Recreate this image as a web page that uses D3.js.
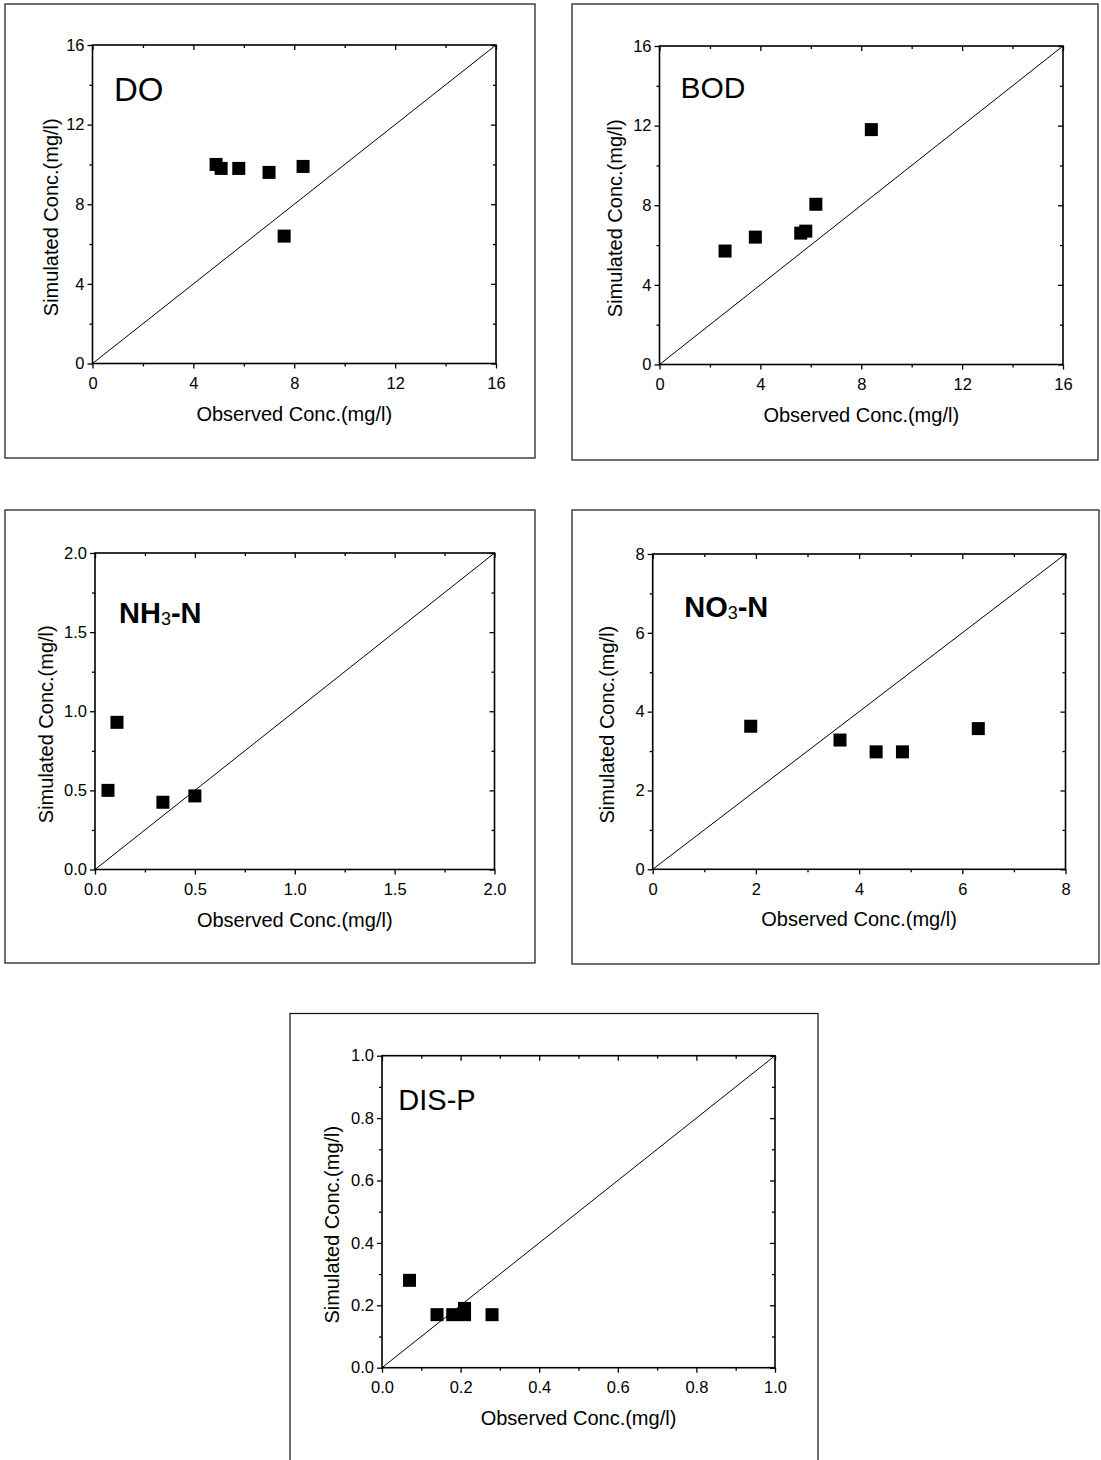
<!DOCTYPE html>
<html>
<head>
<meta charset="utf-8">
<script src="https://cdn.jsdelivr.net/npm/d3@7"></script>
<style>
  html, body { margin: 0; padding: 0; background: #fff; }
  svg { display: block; }
  text { font-family: "Liberation Sans", Arial, Helvetica, sans-serif; fill: #000; }
</style>
</head>
<body>
<svg id="chart" width="1101" height="1460"></svg>
<script>
// Observed vs simulated concentrations (mg/l) for each water-quality constituent
const doObserved  = [4.9, 5.1, 5.8, 7.0, 8.35, 7.6];
const doSimulated = [10.0, 9.8, 9.8, 9.6, 9.9, 6.4];

const bodObserved  = [2.6, 3.8, 5.6, 5.8, 6.2, 8.4];
const bodSimulated = [5.7, 6.4, 6.6, 6.7, 8.05, 11.8];

const nh3Observed  = [0.065, 0.11, 0.34, 0.50];
const nh3Simulated = [0.50, 0.93, 0.425, 0.465];

const no3Observed  = [1.9, 3.63, 4.33, 4.84, 6.31];
const no3Simulated = [3.63, 3.28, 2.98, 2.98, 3.57];

const dispObserved  = [0.07, 0.14, 0.18, 0.21, 0.21, 0.28];
const dispSimulated = [0.28, 0.17, 0.17, 0.17, 0.19, 0.17];

// Major tick labels of each axis range
const ticks16 = [0, 4, 8, 12, 16];
const ticks8  = [0, 2, 4, 6, 8];
const ticks2  = [0, 0.5, 1.0, 1.5, 2.0];
const ticks1  = [0, 0.2, 0.4, 0.6, 0.8, 1.0];

const xAxisTitle = "Observed Conc.(mg/l)";
const yAxisTitle = "Simulated Conc.(mg/l)";

// Panel definitions: data + frame / plot-area geometry
const panels = [
  { title: ["DO"], obs: doObserved, sim: doSimulated, max: 16, ticks: ticks16, fmt: "d",
    frame: [5, 4, 535, 458], plot: [92.5, 45, 496, 363.5], yTitleGap: 35,
    titleDx: 21.5, titleDy: 56, titleSize: 33, titleWeight: "normal" },
  { title: ["BOD"], obs: bodObserved, sim: bodSimulated, max: 16, ticks: ticks16, fmt: "d",
    frame: [572, 4, 1098, 460], plot: [659.5, 46, 1063, 364.5], yTitleGap: 38,
    titleDx: 21, titleDy: 52, titleSize: 30, titleWeight: "normal" },
  { title: ["NH", "3", "-N"], obs: nh3Observed, sim: nh3Simulated, max: 2, ticks: ticks2, fmt: ".1f",
    frame: [5, 510, 535, 963], plot: [95, 553, 494.5, 869.5], yTitleGap: 42,
    titleDx: 24, titleDy: 70, titleSize: 29, titleWeight: "bold" },
  { title: ["NO", "3", "-N"], obs: no3Observed, sim: no3Simulated, max: 8, ticks: ticks8, fmt: "d",
    frame: [572, 510, 1099, 964], plot: [652.7, 554, 1065.5, 869.3], yTitleGap: 39,
    titleDx: 31.5, titleDy: 63, titleSize: 29, titleWeight: "bold" },
  { title: ["DIS-P"], obs: dispObserved, sim: dispSimulated, max: 1, ticks: ticks1, fmt: ".1f",
    frame: [290, 1013.5, 818, 1475], plot: [382, 1055.7, 775, 1367.7], yTitleGap: 43,
    titleDx: 16.3, titleDy: 54, titleSize: 29, titleWeight: "normal" }
];

const svg = d3.select("#chart");
const MAJOR = 5, MINOR = 3, MARK = 13;

function minorsOf(ticks) {
  const out = [];
  for (let i = 0; i < ticks.length - 1; i++) out.push((ticks[i] + ticks[i + 1]) / 2);
  return out;
}

function styleAxis(g) {
  g.attr("font-size", null).attr("font-family", null);
  g.select(".domain").remove();
  g.selectAll(".tick line").attr("stroke", "#000").attr("stroke-width", 1.3);
  g.selectAll(".tick text").attr("font-size", 16.5).attr("fill", "#000");
}

panels.forEach(p => {
  const [fx0, fy0, fx1, fy1] = p.frame;
  const [px0, py0, px1, py1] = p.plot;

  // outer panel frame
  svg.append("rect")
    .attr("x", fx0).attr("y", fy0)
    .attr("width", fx1 - fx0).attr("height", fy1 - fy0)
    .attr("fill", "none").attr("stroke", "#111").attr("stroke-width", 1.2);

  const x = d3.scaleLinear().domain([0, p.max]).range([px0, px1]);
  const y = d3.scaleLinear().domain([0, p.max]).range([py1, py0]);
  const minors = minorsOf(p.ticks);
  const fmt = d3.format(p.fmt);

  // bottom axis: labelled major ticks, minor ticks, all outward
  svg.append("g").attr("transform", `translate(0,${py1})`)
    .call(d3.axisBottom(x).tickValues(p.ticks).tickFormat(fmt).tickSize(MAJOR).tickPadding(8.5).tickSizeOuter(0))
    .call(styleAxis);
  svg.append("g").attr("transform", `translate(0,${py1})`)
    .call(d3.axisBottom(x).tickValues(minors).tickFormat("").tickSize(MINOR).tickSizeOuter(0))
    .call(styleAxis);

  // left axis
  svg.append("g").attr("transform", `translate(${px0},0)`)
    .call(d3.axisLeft(y).tickValues(p.ticks).tickFormat(fmt).tickSize(MAJOR).tickPadding(3).tickSizeOuter(0))
    .call(styleAxis);
  svg.append("g").attr("transform", `translate(${px0},0)`)
    .call(d3.axisLeft(y).tickValues(minors).tickFormat("").tickSize(MINOR).tickSizeOuter(0))
    .call(styleAxis);

  // top and right mirror axes, ticks pointing inward
  svg.append("g").attr("transform", `translate(0,${py0})`)
    .call(d3.axisBottom(x).tickValues(p.ticks).tickFormat("").tickSize(MAJOR).tickSizeOuter(0))
    .call(styleAxis);
  svg.append("g").attr("transform", `translate(0,${py0})`)
    .call(d3.axisBottom(x).tickValues(minors).tickFormat("").tickSize(MINOR).tickSizeOuter(0))
    .call(styleAxis);
  svg.append("g").attr("transform", `translate(${px1},0)`)
    .call(d3.axisLeft(y).tickValues(p.ticks).tickFormat("").tickSize(MAJOR).tickSizeOuter(0))
    .call(styleAxis);
  svg.append("g").attr("transform", `translate(${px1},0)`)
    .call(d3.axisLeft(y).tickValues(minors).tickFormat("").tickSize(MINOR).tickSizeOuter(0))
    .call(styleAxis);

  // plot box
  svg.append("rect")
    .attr("x", x(0)).attr("y", y(p.max))
    .attr("width", x(p.max) - x(0)).attr("height", y(0) - y(p.max))
    .attr("fill", "none").attr("stroke", "#000").attr("stroke-width", 1.6);

  // 1:1 reference line
  svg.append("line")
    .attr("x1", x(0)).attr("y1", y(0))
    .attr("x2", x(p.max)).attr("y2", y(p.max))
    .attr("stroke", "#000").attr("stroke-width", 1);

  // observed/simulated pairs as filled squares
  const pts = p.obs.map((o, i) => ({ o, s: p.sim[i] }));
  svg.append("g").selectAll("rect").data(pts).join("rect")
    .attr("x", d => x(d.o) - MARK / 2)
    .attr("y", d => y(d.s) - MARK / 2)
    .attr("width", MARK).attr("height", MARK)
    .attr("fill", "#000");

  // axis titles
  svg.append("text")
    .attr("x", (px0 + px1) / 2).attr("y", py1 + 57)
    .attr("text-anchor", "middle").attr("font-size", 20)
    .text(xAxisTitle);
  svg.append("text")
    .attr("transform", `translate(${px0 - p.yTitleGap},${(py0 + py1) / 2 + 13}) rotate(-90)`)
    .attr("text-anchor", "middle").attr("font-size", 20)
    .text(yAxisTitle);

  // constituent name
  const t = svg.append("text")
    .attr("x", px0 + p.titleDx).attr("y", py0 + p.titleDy)
    .attr("font-size", p.titleSize).attr("font-weight", p.titleWeight);
  if (p.title.length === 1) {
    t.text(p.title[0]);
  } else {
    t.append("tspan").text(p.title[0]);
    t.append("tspan").attr("font-size", 18).attr("font-weight", "normal").attr("dy", 2).text(p.title[1]);
    t.append("tspan").attr("dy", -2).text(p.title[2]);
  }
});
</script>
</body>
</html>
